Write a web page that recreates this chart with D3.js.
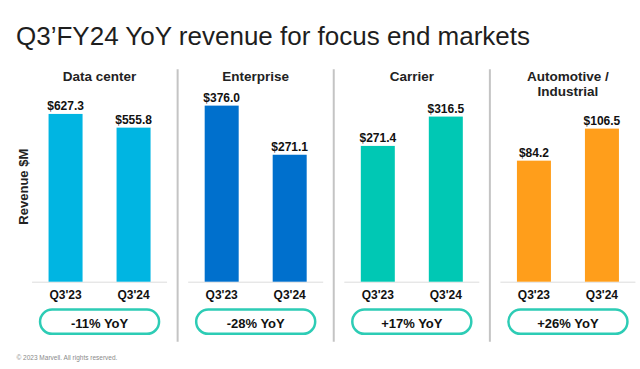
<!DOCTYPE html>
<html>
<head>
<meta charset="utf-8">
<script src="https://cdn.jsdelivr.net/npm/d3@7"></script>
<style>
  html, body { margin: 0; padding: 0; background: #fff; }
  svg { display: block; }
  text { font-family: "Liberation Sans", Arial, sans-serif; }
</style>
</head>
<body>
<svg id="chart" width="640" height="369"></svg>
<script>
// ---- data ----
const categories = ["Data center", "Enterprise", "Carrier", "Automotive / Industrial"];
const titleLines = [["Data center"], ["Enterprise"], ["Carrier"], ["Automotive /", "Industrial"]];
const periods = ["Q3'23", "Q3'24"];
const q323 = [627.3, 376.0, 271.4, 84.2];
const q324 = [555.8, 271.1, 316.5, 106.5];
const yoyLabels = ["-11% YoY", "-28% YoY", "+17% YoY", "+26% YoY"];
// per-panel value axis domains (each panel has its own scale)
const panelDomains = [[-248, 700], [0, 388], [62.6, 342], [0, 126.4]];

// ---- styles ----
const colors = ["#00B5E2", "#0070CD", "#00C8B4", "#FF9E1B"];
const pillColor = "#2DCCB5";

const svg = d3.select("#chart");
const W = 640, H = 369;

const baseY = 281.7, topY = 100;

const x0 = d3.scaleBand().domain(categories).range([21.5, 646]);
const bw = x0.bandwidth();
const x1 = d3.scaleBand().domain(periods)
  .range([bw / 2 - 68, bw / 2 + 68]).paddingInner(0.5).paddingOuter(0.25);

// title
svg.append("text")
  .attr("x", 16).attr("y", 45)
  .attr("font-size", 26)
  .attr("fill", "#1e1e1e")
  .text("Q3\u2019FY24 YoY revenue for focus end markets");

// y axis label
svg.append("text")
  .attr("transform", `translate(${23.3 + 4.6},186.7) rotate(-90)`)
  .attr("text-anchor", "middle")
  .attr("font-size", 13).attr("font-weight", "bold")
  .attr("fill", "#222")
  .text("Revenue $M");

// dividers
categories.slice(1).forEach(c => {
  svg.append("line")
    .attr("x1", x0(c)).attr("x2", x0(c))
    .attr("y1", 69.3).attr("y2", 341.7)
    .attr("stroke", "#c4c4c4").attr("stroke-width", 2);
});

categories.forEach((cat, i) => {
  const g = svg.append("g").attr("transform", `translate(${x0(cat)},0)`);
  const y = d3.scaleLinear().domain(panelDomains[i]).range([baseY, topY]);
  const vals = [q323[i], q324[i]];
  const cx = bw / 2;

  // category title
  titleLines[i].forEach((ln, j) => {
    g.append("text")
      .attr("x", cx).attr("y", 80.5 + j * 15)
      .attr("text-anchor", "middle")
      .attr("font-size", 13.5).attr("font-weight", "bold")
      .attr("fill", "#222")
      .text(ln);
  });

  // baseline
  g.append("line")
    .attr("x1", cx - 67.5).attr("x2", cx + 67.5)
    .attr("y1", baseY + 0.5).attr("y2", baseY + 0.5)
    .attr("stroke", "#dcdcdc").attr("stroke-width", 1);

  // bars
  g.selectAll("rect.bar").data(vals).join("rect")
    .attr("class", "bar")
    .attr("x", (d, k) => x1(periods[k]))
    .attr("width", x1.bandwidth())
    .attr("y", d => y(d))
    .attr("height", d => baseY - y(d))
    .attr("fill", colors[i]);

  // value labels
  g.selectAll("text.val").data(vals).join("text")
    .attr("class", "val")
    .attr("x", (d, k) => x1(periods[k]) + x1.bandwidth() / 2)
    .attr("y", d => y(d) - 4)
    .attr("text-anchor", "middle")
    .attr("font-size", 12).attr("font-weight", "bold")
    .attr("fill", "#111")
    .text(d => "$" + d.toFixed(1));

  // x labels (axis)
  const ax = g.append("g").attr("transform", `translate(0,${baseY})`)
    .call(d3.axisBottom(x1).tickSize(0).tickPadding(0));
  ax.select(".domain").remove();
  ax.selectAll("text")
    .attr("y", 17.6).attr("dy", 0)
    .attr("font-size", 12).attr("font-weight", "bold")
    .attr("font-family", "'Liberation Sans', Arial, sans-serif")
    .attr("fill", "#111");

  // YoY pill
  g.append("rect")
    .attr("x", cx - 59.5).attr("y", 309.6)
    .attr("width", 119).attr("height", 24.2)
    .attr("rx", 12.1).attr("ry", 12.1)
    .attr("fill", "#fff")
    .attr("stroke", pillColor).attr("stroke-width", 2.5);
  g.append("text")
    .attr("x", cx).attr("y", 328)
    .attr("text-anchor", "middle")
    .attr("font-size", 13).attr("font-weight", "bold")
    .attr("fill", "#111")
    .text(yoyLabels[i]);
});

// footer
svg.append("text")
  .attr("x", 16.5).attr("y", 360)
  .attr("font-size", 6.5)
  .attr("fill", "#8a8a8a")
  .text("\u00A9 2023 Marvell. All rights reserved.");
</script>
</body>
</html>
